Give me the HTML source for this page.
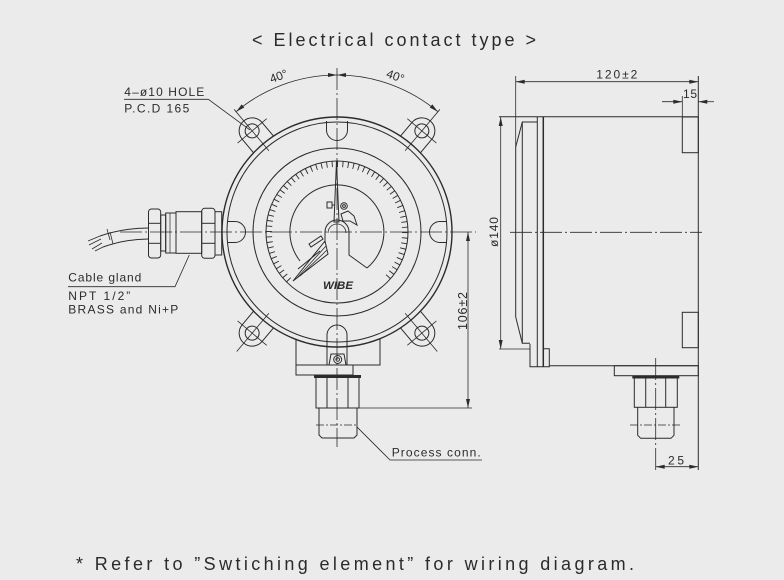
<!DOCTYPE html>
<html><head><meta charset="utf-8">
<style>
html,body{margin:0;padding:0;background:#ebebeb;}
svg{display:block}
text{font-family:"Liberation Sans",sans-serif;fill:#2b2b2b}
</style></head><body>
<svg width="784" height="580" viewBox="0 0 784 580" xmlns="http://www.w3.org/2000/svg">
<rect width="784" height="580" fill="#ebebeb"/>

<!-- Titles -->
<text x="252" y="46" font-size="18" textLength="284" lengthAdjust="spacing">&lt; Electrical contact type &gt;</text>
<text x="76" y="570" font-size="18" textLength="558" lengthAdjust="spacing">* Refer to ”Swtiching element” for wiring diagram.</text>

<g fill="none" stroke="#2b2b2b" stroke-width="1">
  <!-- center lines main -->
  <line x1="337" y1="68" x2="337" y2="447" stroke-width="0.8" stroke-dasharray="22 3 2 3"/>
  <line x1="120" y1="232" x2="476" y2="232" stroke-width="0.8" stroke-dasharray="22 3 2 3"/>

  <!-- case circles -->
  <circle cx="337" cy="232" r="115" stroke-width="1.4"/>
  <circle cx="337" cy="232" r="110"/>
  <circle cx="337" cy="232" r="84"/>
  <circle cx="337" cy="232" r="71"/>
  <!-- ticks -->
  <path d="M288.92,280.08 A68,68 0 1 1 385.08,280.08" stroke-width="6" stroke-dasharray="0.9 4.441"/>

  <!-- inner dial arc with cut -->
  <path d="M367,268 A47,47 0 1 0 300,261"/>
  <path d="M367,268 L349,255 V232 A12,12 0 0 0 325,232 V243"/>
  <path d="M346,233 A9,9 0 0 0 328,233" stroke-width="0.8"/>

  <!-- main needle -->
  <path d="M336.5,161 L334,222 L339,222 Z"/>
  <rect x="327" y="202" width="5" height="6"/>
  <line x1="332" y1="205" x2="334.5" y2="205"/>
  <circle cx="344" cy="206" r="3.3"/>
  <circle cx="344" cy="206" r="1.4"/>
  <path d="M341,214 L348,211 L354,216 L357,225 L350,221 L343,221 Z"/>
  <!-- lower-left pointer -->
  <path d="M325,241 L293,281 L328,254 Z"/>
  <line x1="326" y1="246" x2="297" y2="278" stroke-width="0.8"/>
  <line x1="327" y1="250" x2="300" y2="276" stroke-width="0.8"/>
  <path d="M309,244 L321,236 L323,239 L311,247 Z"/>
  <line x1="320" y1="251" x2="298" y2="269"/>

  <!-- side tabs -->
  <path d="M326.5,121 V130 A10.5,10.5 0 0 0 347.5,130 V121"/>
  <path d="M227,221.5 H235 A10.5,10.5 0 0 1 235,242.5 H227"/>
  <path d="M447,221.5 H440 A10.5,10.5 0 0 0 440,242.5 H447"/>
  <path d="M327,365 V335 A10,10 0 0 1 347,335 V365"/>
  <path d="M329,365 L331,354 H344 L346,365"/>
  <circle cx="337.7" cy="359.5" r="4"/>
  <circle cx="337.7" cy="359.5" r="1.8"/>

  <!-- lugs -->
  <g transform="rotate(-40 337 232)">
    <path d="M324,117.7 V100 A13,13 0 0 1 350,100 V117.7"/>
    <circle cx="337" cy="100" r="7"/>
    <line x1="337" y1="72" x2="337" y2="126" stroke-width="0.8"/>
    <line x1="318" y1="100" x2="356" y2="100" stroke-width="0.8"/>
  </g>
  <g transform="rotate(40 337 232)">
    <path d="M324,117.7 V100 A13,13 0 0 1 350,100 V117.7"/>
    <circle cx="337" cy="100" r="7"/>
    <line x1="337" y1="72" x2="337" y2="126" stroke-width="0.8"/>
    <line x1="318" y1="100" x2="356" y2="100" stroke-width="0.8"/>
  </g>
  <g transform="rotate(140 337 232)">
    <path d="M324,117.7 V100 A13,13 0 0 1 350,100 V117.7"/>
    <circle cx="337" cy="100" r="7"/>
    <line x1="337" y1="76" x2="337" y2="126" stroke-width="0.8"/>
    <line x1="318" y1="100" x2="356" y2="100" stroke-width="0.8"/>
  </g>
  <g transform="rotate(-140 337 232)">
    <path d="M324,117.7 V100 A13,13 0 0 1 350,100 V117.7"/>
    <circle cx="337" cy="100" r="7"/>
    <line x1="337" y1="76" x2="337" y2="126" stroke-width="0.8"/>
    <line x1="318" y1="100" x2="356" y2="100" stroke-width="0.8"/>
  </g>

  <!-- angular dimension arc -->
  <path d="M236.08,111.73 A157,157 0 0 1 437.92,111.73" stroke-width="0.8"/>

  <!-- socket block -->
  <path d="M296,339.5 V375 H353 V365"/>
  <path d="M380,338.7 V365 H296"/>
  <rect x="316" y="377" width="43" height="31"/>
  <line x1="327" y1="377" x2="327" y2="408"/>
  <line x1="348" y1="377" x2="348" y2="408"/>
  <path d="M319,408 V435 L322,438 H354 L357,435 V408"/>
  <line x1="316" y1="425" x2="358" y2="425" stroke-width="0.8" stroke-dasharray="8 2 2 2"/>

  <!-- cable gland -->
  <rect x="148.5" y="209" width="12.2" height="49" rx="3"/>
  <line x1="148.5" y1="223.3" x2="160.7" y2="223.3"/>
  <line x1="148.5" y1="243.3" x2="160.7" y2="243.3"/>
  <rect x="160.7" y="215" width="5" height="36"/>
  <rect x="165.7" y="213" width="10.3" height="40"/>
  <line x1="170" y1="213" x2="170" y2="253" stroke-width="0.7"/>
  <rect x="176" y="211.7" width="25.7" height="41.6"/>
  <rect x="201.7" y="208.3" width="13.3" height="50" rx="3"/>
  <line x1="201.7" y1="223.3" x2="215" y2="223.3"/>
  <line x1="201.7" y1="243.3" x2="215" y2="243.3"/>
  <rect x="215" y="211.7" width="6.7" height="43.3"/>
  <!-- cable -->
  <path d="M148.5,228 C135,228 118,230 100,236"/>
  <path d="M148.5,239 C135,239 120,241 103,247"/>
  <line x1="107" y1="229" x2="110" y2="240" stroke-width="0.8"/>
  <line x1="110" y1="232" x2="113" y2="244" stroke-width="0.8"/>
  <line x1="100" y1="236" x2="88" y2="241" stroke-width="0.8"/>
  <line x1="101" y1="239" x2="89" y2="245" stroke-width="0.8"/>
  <line x1="102" y1="243" x2="92" y2="249" stroke-width="0.8"/>
  <line x1="103" y1="247" x2="95" y2="251" stroke-width="0.8"/>

  <!-- leaders -->
  <path d="M68,286.7 H175 L189.3,255" stroke-width="0.8"/>
  <path d="M124,99.3 H208.3 L250,130" stroke-width="0.8"/>
  <path d="M356.7,426.7 L390,460 H482" stroke-width="0.8"/>

  <!-- 106 dim -->
  <line x1="468" y1="232" x2="468" y2="408" stroke-width="0.8"/>
  <line x1="359" y1="408" x2="472" y2="408" stroke-width="0.8"/>

  <!-- RIGHT VIEW -->
  <line x1="499" y1="116.7" x2="698.3" y2="116.7"/>
  <line x1="515.7" y1="76" x2="515.7" y2="147" stroke-width="0.8"/>
  <line x1="698.3" y1="76" x2="698.3" y2="470"/>
  <line x1="515.7" y1="81.7" x2="698.3" y2="81.7" stroke-width="0.8"/>
  <line x1="682.3" y1="96" x2="682.3" y2="117" stroke-width="0.8"/>
  <line x1="662" y1="101.7" x2="682.3" y2="101.7" stroke-width="0.8"/>
  <line x1="698.3" y1="101.7" x2="714" y2="101.7" stroke-width="0.8"/>
  <path d="M515.7,147 L522.3,122 H537.3"/>
  <path d="M515.7,147 V317 L522.3,343.3 H530"/>
  <line x1="522.3" y1="122" x2="522.3" y2="343.3"/>
  <line x1="537.3" y1="117" x2="537.3" y2="366.7"/>
  <line x1="543.3" y1="117" x2="543.3" y2="366.7" stroke-width="1.5"/>
  <path d="M530,344 V366.7 H549.3 V348.7 H543.3"/>
  <line x1="549.3" y1="365.7" x2="698.3" y2="365.7"/>
  <rect x="682.3" y="117" width="16" height="35.7"/>
  <rect x="682.3" y="312.3" width="16" height="35.4"/>
  <line x1="500.7" y1="117" x2="500.7" y2="349" stroke-width="0.8"/>
  <line x1="499" y1="349" x2="530" y2="349" stroke-width="0.8"/>
  <line x1="510" y1="232.3" x2="702" y2="232.3" stroke-width="0.8" stroke-dasharray="22 3 2 3"/>
  <rect x="614.3" y="365.7" width="84" height="10"/>
  <rect x="634.3" y="377" width="43" height="30.3"/>
  <line x1="645.7" y1="377" x2="645.7" y2="407.3"/>
  <line x1="665.7" y1="377" x2="665.7" y2="407.3"/>
  <path d="M637.7,407.3 V435.3 L640.7,438.3 H671 L674,435.3 V407.3"/>
  <line x1="655.7" y1="358" x2="655.7" y2="470" stroke-width="0.8" stroke-dasharray="22 3 2 3"/>
  <line x1="630" y1="425" x2="680" y2="425" stroke-width="0.8" stroke-dasharray="8 2 2 2"/>
  <line x1="655.7" y1="466.7" x2="698.3" y2="466.7" stroke-width="0.8"/>
</g>

<!-- dark sealing bands -->
<rect x="314" y="375" width="47" height="3" fill="#2b2b2b"/>
<rect x="632.3" y="375.5" width="47" height="3" fill="#2b2b2b"/>

<!-- arrowheads -->
<g fill="#2b2b2b">
  <polygon points="337,75 328,73 328,77"/>
  <polygon points="337,75 346,73 346,77"/>
  <polygon points="236.1,111.7 244.3,107.5 241.7,104.4"/>
  <polygon points="437.9,111.7 429.7,107.5 432.3,104.4"/>
  <polygon points="468,232 466,241 470,241"/>
  <polygon points="468,408 466,399 470,399"/>
  <polygon points="500.7,117 498.7,126 502.7,126"/>
  <polygon points="500.7,349 498.7,340 502.7,340"/>
  <polygon points="515.7,81.7 524.7,79.7 524.7,83.7"/>
  <polygon points="698.3,81.7 689.3,79.7 689.3,83.7"/>
  <polygon points="682.3,101.7 673.3,99.7 673.3,103.7"/>
  <polygon points="698.3,101.7 707.3,99.7 707.3,103.7"/>
  <polygon points="655.7,466.7 664.7,464.7 664.7,468.7"/>
  <polygon points="698.3,466.7 689.3,464.7 689.3,468.7"/>
</g>

<!-- labels -->
<text x="124.3" y="96" font-size="12" textLength="80" lengthAdjust="spacing">4–ø10 HOLE</text>
<text x="124.3" y="112.3" font-size="12" textLength="65" lengthAdjust="spacing">P.C.D 165</text>
<text x="68.3" y="281.7" font-size="12" textLength="73" lengthAdjust="spacing">Cable gland</text>
<text x="68.3" y="300" font-size="12" textLength="62" lengthAdjust="spacing">NPT 1/2”</text>
<text x="68.3" y="313.5" font-size="12" textLength="110" lengthAdjust="spacing">BRASS and Ni+P</text>
<text x="391.7" y="456.7" font-size="12" textLength="89" lengthAdjust="spacing">Process conn.</text>
<text transform="translate(280,80) rotate(-20)" font-size="12" text-anchor="middle">40°</text>
<text transform="translate(394,80) rotate(20)" font-size="12" text-anchor="middle">40°</text>
<text transform="translate(467,311) rotate(-90)" font-size="12.5" text-anchor="middle" textLength="38" lengthAdjust="spacing">106±2</text>
<text transform="translate(498,232) rotate(-90)" font-size="12" text-anchor="middle" textLength="30" lengthAdjust="spacing">ø140</text>
<text x="596.3" y="78.3" font-size="12" textLength="41" lengthAdjust="spacing">120±2</text>
<text x="683" y="98" font-size="12" textLength="14" lengthAdjust="spacing">15</text>
<text x="668" y="464.5" font-size="12" textLength="16" lengthAdjust="spacing">25</text>
<text x="323" y="289" font-size="11" font-weight="bold" font-style="italic" textLength="30" lengthAdjust="spacingAndGlyphs" fill="#222">WIBE</text>
</svg>
</body></html>
